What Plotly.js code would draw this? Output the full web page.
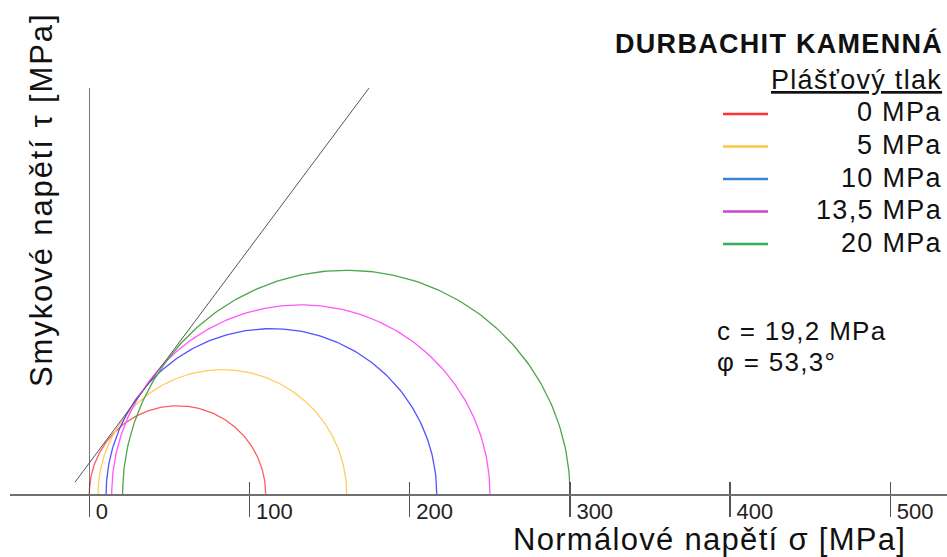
<!DOCTYPE html>
<html><head><meta charset="utf-8">
<script src="https://cdn.plot.ly/plotly-3.0.1.min.js"></script>
<style>
html,body{margin:0;padding:0;background:#fff;}
#chart{width:947px;height:557px;}
.annotation-text{letter-spacing:1.3px;}
</style></head><body><div id="chart"></div>
<script>
// ---- data ----
const confiningLabels = ['0 MPa', '5 MPa', '10 MPa', '13,5 MPa', '20 MPa'];
const sigma3 = [0, 5.5, 10.5, 14, 20.8];          // minor principal stress (MPa)
const sigma1 = [110.1, 160.7, 216.9, 250.1, 300.1]; // major principal stress (MPa)
const circleColors = ['#ff5c5c', '#ffcc60', '#5252ff', '#ff55ff', '#4ca64c'];
const legendColors = ['#ff3333', '#ffc646', '#3a86d0', '#cc44cc', '#33b060'];
const envSigma = [-9, 174.6];   // Mohr-Coulomb envelope end points
const envTau = [7.3, 253.4];
const tickVals = [0, 100, 200, 300, 400, 500];
const tickText = ['0', '100', '200', '300', '400', '500'];
const chartTitle = 'DURBACHIT KAMENNÁ';
const legendTitle = 'Plášťový tlak';
const cohesionText = 'c = 19,2 MPa';
const frictionText = 'φ = 53,3°';
const xTitle = 'Normálové napětí σ [MPa]';
const yTitle = 'Smykové napětí τ [MPa]';

// ---- layout helpers (pixel -> paper) ----
const L = 10, R = 947, T = 88, B = 494;
const px = x => (x - L) / (R - L);
const py = y => (B - y) / (B - T);
const FONT = 'Liberation Sans, Arial, sans-serif';

const traces = [];
for (let i = 0; i < sigma1.length; i++) {
  const c = (sigma1[i] + sigma3[i]) / 2, r = (sigma1[i] - sigma3[i]) / 2;
  const xs = [], ys = [];
  for (let k = 0; k <= 180; k++) {
    const t = Math.PI * k / 180;
    xs.push(c + r * Math.cos(t));
    ys.push(r * Math.sin(t));
  }
  traces.push({x: xs, y: ys, type: 'scatter', mode: 'lines', name: confiningLabels[i],
    line: {color: circleColors[i], width: 1.3}, hoverinfo: 'skip'});
}
traces.push({x: envSigma, y: envTau, xaxis: 'x2', type: 'scatter', mode: 'lines',
  line: {color: '#555', width: 1}, hoverinfo: 'skip', name: 'envelope'});

const annotations = [
  {text: '<b>' + chartTitle + '</b>', x: px(945), y: py(44), xanchor: 'right', yanchor: 'middle', font: {size: 27}},
  {text: '<u>' + legendTitle + '</u>', x: px(944), y: py(80), xanchor: 'right', yanchor: 'middle', font: {size: 27}},
  {text: cohesionText, x: px(715), y: py(331), xanchor: 'left', yanchor: 'middle', font: {size: 26}},
  {text: frictionText, x: px(715), y: py(362), xanchor: 'left', yanchor: 'middle', font: {size: 26}},
  {text: xTitle, x: px(709), y: py(539), xanchor: 'center', yanchor: 'middle', font: {size: 31}},
  {text: '<span style="letter-spacing:1.9px">' + yTitle + '</span>', x: px(41), y: py(200), xanchor: 'center', yanchor: 'middle', textangle: -90, font: {size: 31}}
];
const shapes = [];
confiningLabels.forEach((lab, i) => {
  const yc = 112.5 + 32.5 * i;
  annotations.push({text: lab, x: px(944), y: py(yc), xanchor: 'right', yanchor: 'middle', font: {size: 27}});
  shapes.push({type: 'line', xref: 'paper', yref: 'paper', x0: px(723), x1: px(768),
    y0: py(yc + 1.5), y1: py(yc + 1.5), line: {color: legendColors[i], width: 2.5}});
});
annotations.forEach(a => {
  a.xref = 'paper'; a.yref = 'paper'; a.showarrow = false;
  a.font = Object.assign({family: FONT, color: '#111'}, a.font);
});

const layout = {
  width: 947, height: 557,
  margin: {l: L, r: 947 - R, t: T, b: 557 - B, pad: 0},
  paper_bgcolor: '#fff', plot_bgcolor: '#fff',
  showlegend: false,
  xaxis: {
    range: [-49.5, 535.4], tickmode: 'array', tickvals: tickVals, ticktext: tickText,
    ticks: 'outside', ticklen: 21, tickwidth: 1.5, tickcolor: '#555',
    ticklabelposition: 'outside right', ticklabelstandoff: -3, ticklabelshift: 5,
    tickfont: {family: FONT, size: 22, color: '#222'},
    showline: true, linecolor: '#707070', linewidth: 1.5,
    zeroline: true, zerolinecolor: '#777', zerolinewidth: 1.5,
    showgrid: false, fixedrange: true
  },
  xaxis2: {
    overlaying: 'x', matches: 'x', anchor: 'y', side: 'bottom',
    tickmode: 'array', tickvals: tickVals, ticks: 'inside', ticklen: 12, tickwidth: 1.5, tickcolor: '#555',
    showticklabels: false, showgrid: false, zeroline: false, showline: false, fixedrange: true
  },
  yaxis: {range: [0, (B - T) / 1.602], showticklabels: false, ticks: '', showgrid: false,
    zeroline: false, showline: false, fixedrange: true},
  annotations: annotations,
  shapes: shapes
};
Plotly.newPlot('chart', traces, layout, {staticPlot: true, displayModeBar: false});
</script></body></html>
